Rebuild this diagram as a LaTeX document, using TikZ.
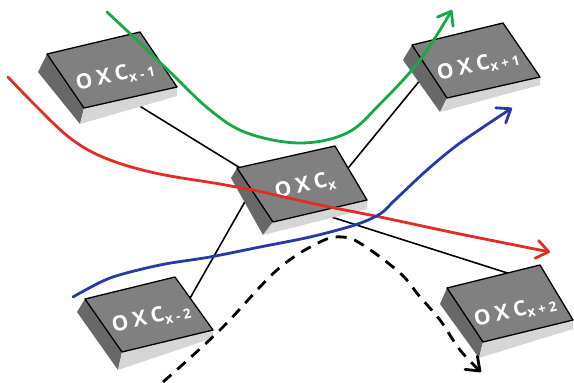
\documentclass[tikz,border=0pt]{standalone}
\usepackage{fontspec}
\newfontfamily\oxcfont[LetterSpace=24]{Open Sans}
\usetikzlibrary{arrows.meta,calc}
\definecolor{topgray}{RGB}{128,128,128}
\definecolor{sidegray}{RGB}{104,104,104}
\definecolor{frontgray}{RGB}{214,214,214}
\definecolor{flowgreen}{RGB}{24,168,72}
\definecolor{flowred}{RGB}{228,44,38}
\definecolor{flowblue}{RGB}{40,56,166}

% one switch drawn as a slab: top face A B C D, lower left edge A' D', lower front corner C'
\newcommand\oxcslab[7]{%
  \fill[sideface] #1 -- #4 -- #6 -- #5 -- cycle;
  \fill[frontface] #4 -- #3 -- #7 -- #6 -- cycle;
  \filldraw[topface] #1 -- #2 -- #3 -- #4 -- cycle;
}
\newcommand\oxctext[1]{{\oxcfont\bfseries\fontsize{21}{21}\selectfont OXC\raisebox{-3.5pt}{\fontsize{13.5}{13.5}\selectfont #1}}}

\begin{document}
\begin{tikzpicture}[x=1pt,y=-1pt,
  sideface/.style={fill=sidegray},
  frontface/.style={fill=frontgray},
  topface/.style={fill=topgray,draw=black,line width=1.3pt,line join=round},
  oxclabel/.style={text=white,rotate=13,inner sep=0pt},
  link/.style={draw=black,line width=1.6pt},
  flow/.style={line width=2.8pt,line cap=round,line join=round,
    -{Straight Barb[length=12pt,width=18pt,round]}},
  dashflow/.style={flow,dash pattern=on 11pt off 8pt,line cap=butt}]
\useasboundingbox (0,0) rectangle (574,383);

% connection points, hidden under the slabs
\coordinate (xm1-p) at (120,94);
\coordinate (c-a) at (250,174);
\coordinate (c-b) at (322,214);
\coordinate (xp2-p) at (520,277);
\coordinate (xp1-p) at (435,62);
\coordinate (c-c) at (340,178);
\coordinate (c-d) at (255,184);
\coordinate (xm2-p) at (185,307);

% links between the switches
\draw[link] (xm1-p) -- (c-a);
\draw[link] (c-b) -- (xp2-p);
\draw[link] (xp1-p) -- (c-c);
\draw[link] (c-d) -- (xm2-p);

% switches
\oxcslab{(47,54)}{(140,32)}{(177,87)}{(84,108)}{(38,72)}{(80,124)}{(177,96)}
\oxcslab{(412,45)}{(503,23)}{(540,77)}{(447,98)}{(403,60)}{(440,112)}{(540,85)}
\oxcslab{(237,168)}{(335,146)}{(367,200)}{(273,222)}{(231,178)}{(263,235)}{(367,209)}
\oxcslab{(85,299)}{(175,277)}{(213,330)}{(122,352)}{(77,312)}{(118,370)}{(213,338)}
\oxcslab{(447,288)}{(540,265)}{(573,320)}{(483,342)}{(440,304)}{(479,358)}{(573,329)}

\node[oxclabel] (xm1) at (115,76) {\oxctext{x-1}};
\node[oxclabel] (xp1) at (478,65) {\oxctext{x+1}};
\node[oxclabel] (cx) at (305,186) {\oxctext{x}};
\node[oxclabel] (xm2) at (151,318) {\oxctext{x-2}};
\node[oxclabel] (xp2) at (515,311) {\oxctext{x+2}};

% light paths
\draw[flow,flowgreen] plot[smooth,tension=0.6] coordinates
  {(107,12) (140,43) (170,72) (210,110) (247,133) (300,143) (347,133) (380,104) (420,60) (452,10)};
\draw[flow,flowred] plot[smooth,tension=0.6] coordinates
  {(8,77) (35,105) (70,138) (105,158) (155,173) (220,184) (253,190) (320,205) (380,217) (460,234) (550,252)};
\draw[flow,flowblue] plot[smooth,tension=0.5] coordinates
  {(73,297) (110,278) (160,265) (210,257) (260,247) (310,237) (355,225) (380,214) (395,200) (427,170) (460,143) (512,108)};
\draw[dashflow,black] plot[smooth,tension=0.6] coordinates
  {(163,382) (220,330) (277,270) (320,242) (343,237) (363,245) (400,273) (420,297) (440,320) (460,350) (481,372)};
\end{tikzpicture}
\end{document}
